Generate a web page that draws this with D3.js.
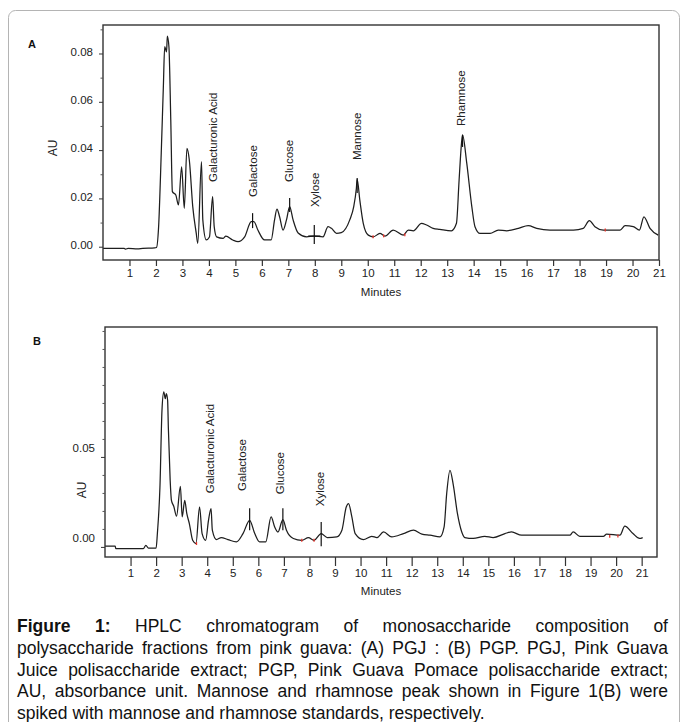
<!DOCTYPE html>
<html>
<head>
<meta charset="utf-8">
<script src="https://cdn.jsdelivr.net/npm/d3@7"></script>
<style>
body{margin:0;background:#fff;}
svg{display:block;font-family:"Liberation Sans",Arial,sans-serif;}
</style>
</head>
<body>
<svg id="chart" width="683" height="722"></svg>
<script>
// panel A : PGJ
var minutesA = [0,0.8,0.85,0.95,1.3,1.5,1.95,2.02,2.1,2.2,2.28,2.33,2.4,2.43,2.49,2.56,2.62,2.75,2.85,2.97,3.07,3.17,3.26,3.39,3.52,3.58,3.72,3.77,3.9,4.02,4.14,4.2,4.29,4.54,4.64,4.9,5.1,5.35,5.6,5.7,5.85,6.1,6.35,6.48,6.57,6.67,6.8,6.93,7.05,7.18,7.37,7.69,7.96,8.31,8.5,8.63,8.82,9.0,9.32,9.47,9.57,9.6,9.7,9.83,10.02,10.21,10.46,10.65,10.96,11.34,11.53,11.72,12.03,12.22,12.47,12.72,13.16,13.35,13.45,13.54,13.58,13.74,13.93,14.05,14.24,14.62,14.93,15.25,15.69,16.06,16.38,16.88,17.77,18.14,18.37,18.58,18.9,19.53,19.72,20.03,20.26,20.43,20.66,20.97];
var auA = [-0.0007,-0.0007,-0.0010,-0.0007,-0.0009,-0.0007,-0.0005,-0.0003,0.0082,0.0388,0.0663,0.0828,0.0807,0.0872,0.0828,0.0525,0.0228,0.0214,0.0173,0.0331,0.0159,0.0407,0.0359,0.0166,0.0057,0.0014,0.0352,0.0111,0.0028,0.0040,0.0207,0.0083,0.0041,0.0035,0.0044,0.0028,0.0021,0.0041,0.0104,0.0104,0.0069,0.0028,0.0028,0.0111,0.0156,0.0124,0.0069,0.0111,0.0166,0.0111,0.0057,0.0041,0.0044,0.0041,0.0083,0.0076,0.0055,0.0058,0.0111,0.0166,0.0242,0.0279,0.0193,0.0097,0.0048,0.0041,0.0055,0.0044,0.0069,0.0048,0.0069,0.0066,0.0097,0.0090,0.0076,0.0072,0.0066,0.0097,0.0276,0.0428,0.0463,0.0345,0.0166,0.0083,0.0055,0.0055,0.0069,0.0066,0.0076,0.0087,0.0076,0.0069,0.0069,0.0076,0.0108,0.0083,0.0069,0.0069,0.0087,0.0083,0.0069,0.0124,0.0076,0.0048];
var labelNamesA = ["Galacturonic Acid","Galactose","Glucose","Xylose","Mannose","Rhamnose"];
var labelMinA = [4.15,5.66,7.02,8.01,9.59,13.52];
var labelAuA = [0.0268,0.0206,0.0268,0.0164,0.0359,0.0500];
var markMinA = [5.65,7.05,7.98,9.6,13.58];
var markTopA = [0.0139,0.0202,0.0090,0.0284,0.0463];
var markBottomA = [0.0077,0.0144,0.0011,0.0222,0.0413];
var redMinA = [10.2,10.6,11.4,18.97];
var redAuA = [0.0041,0.0045,0.0050,0.0069];

// panel B : PGP
var minutesB = [0,0.4,0.42,1.5,1.6,1.7,2.0,2.05,2.15,2.23,2.3,2.36,2.4,2.45,2.48,2.55,2.6,2.69,2.8,2.95,3.02,3.12,3.2,3.3,3.43,3.56,3.7,3.8,3.94,4.05,4.15,4.2,4.36,4.55,4.81,5.14,5.4,5.66,5.86,6.05,6.29,6.5,6.64,6.77,6.96,7.1,7.37,7.7,7.96,8.18,8.46,8.7,9.07,9.27,9.44,9.53,9.66,9.79,10.11,10.44,10.64,10.9,11.22,11.68,12.07,12.4,12.72,13.11,13.27,13.37,13.5,13.63,13.79,13.96,14.08,14.41,14.86,15.19,15.65,15.91,16.3,18.19,18.32,18.58,19.5,19.63,20.15,20.34,20.66,20.92,21.04];
var auB = [0.0004,0.0004,-0.0009,-0.0009,0.0009,-0.0007,-0.0007,0.0076,0.0333,0.0759,0.0861,0.0824,0.0852,0.0815,0.0658,0.0371,0.0259,0.0226,0.0171,0.0337,0.0167,0.0259,0.0186,0.0130,0.0037,0.0019,0.0222,0.0074,0.0037,0.0148,0.0213,0.0093,0.0041,0.0052,0.0041,0.0028,0.0074,0.0148,0.0074,0.0028,0.0028,0.0167,0.0111,0.0083,0.0152,0.0093,0.0047,0.0037,0.0052,0.0037,0.0074,0.0052,0.0056,0.0093,0.0222,0.0241,0.0167,0.0074,0.0041,0.0059,0.0052,0.0083,0.0056,0.0074,0.0093,0.0071,0.0065,0.0056,0.0111,0.0296,0.0426,0.0343,0.0186,0.0083,0.0052,0.0047,0.0059,0.0052,0.0074,0.0083,0.0065,0.0065,0.0083,0.0059,0.0059,0.0071,0.0065,0.0115,0.0074,0.0047,0.0052];
var labelNamesB = ["Galacturonic Acid","Galactose","Glucose","Xylose"];
var labelMinB = [4.10,5.36,6.83,8.42];
var labelAuB = [0.0298,0.0311,0.0293,0.0226];
var markMinB = [5.66,6.96,8.46];
var markTopB = [0.0215,0.0215,0.0139];
var markBottomB = [0.0093,0.0093,0.0004];
var redMinB = [3.58,7.7,8.18,19.75,20.07];
var redAuB = [0.0019,0.0037,0.0037,0.0059,0.0060];

// axes
var xTickValues = [1,2,3,4,5,6,7,8,9,10,11,12,13,14,15,16,17,18,19,20,21];
var yTicksA = [0,0.02,0.04,0.06,0.08];
var yMinorA = [0.01,0.03,0.05,0.07,0.09];
var yTicksB = [0,0.05];
var yMinorB = [0.01,0.02,0.03,0.04,0.06,0.07,0.08,0.09,0.10,0.11,0.12];

var captionLines = [
	"Figure 1: HPLC chromatogram of monosaccharide composition of",
	"polysaccharide fractions from pink guava: (A) PGJ : (B) PGP. PGJ, Pink Guava",
	"Juice polisaccharide extract; PGP, Pink Guava Pomace polisaccharide extract;",
	"AU, absorbance unit. Mannose and rhamnose peak shown in Figure 1(B) were",
	"spiked with mannose and rhamnose standards, respectively."
];

var svg = d3.select("#chart");

// outer frame of the figure
svg.append("rect")
	.attr("x",8.5)
	.attr("y",10.5)
	.attr("width",671)
	.attr("height",740)
	.attr("rx",7)
	.attr("fill","none")
	.attr("stroke","#b4b4b4")
	.attr("stroke-width",1);

var drawPanel = function(p){
	var x = d3.scaleLinear().domain(p.xDomain).range(p.xRange);
	var y = d3.scaleLinear().domain(p.yDomain).range(p.yRange);
	var g = svg.append("g").attr("class","panel");

	var data = p.minutes.map(function(m,i){ return [m,p.au[i]]; });
	var line = d3.line()
		.curve(d3.curveMonotoneX)
		.x(function(d){ return x(d[0]); })
		.y(function(d){ return y(d[1]); });

	g.append("path")
		.datum(data)
		.attr("fill","none")
		.attr("stroke","#1e1e1e")
		.attr("stroke-width",1.25)
		.attr("stroke-linejoin","round")
		.attr("d",line);

	// integration markers
	p.markMin.forEach(function(m,i){
		g.append("line")
			.attr("x1",x(m)).attr("x2",x(m))
			.attr("y1",y(p.markTop[i])).attr("y2",y(p.markBottom[i]))
			.attr("stroke","#111")
			.attr("stroke-width",1.2);
	});
	if (p.crossMin !== undefined){
		g.append("line")
			.attr("x1",x(p.crossMin - 0.23)).attr("x2",x(p.crossMin + 0.23))
			.attr("y1",y(p.crossAu)).attr("y2",y(p.crossAu))
			.attr("stroke","#111")
			.attr("stroke-width",1.2);
	}
	p.redMin.forEach(function(m,i){
		g.append("line")
			.attr("x1",x(m)).attr("x2",x(m))
			.attr("y1",y(p.redAu[i]) - 1.5).attr("y2",y(p.redAu[i]) + 1.5)
			.attr("stroke","#e8322a")
			.attr("stroke-width",1.3);
	});

	// peak names
	p.labelNames.forEach(function(name,i){
		g.append("text")
			.attr("transform","translate(" + (x(p.labelMin[i]) + 4) + "," + y(p.labelAu[i]) + ") rotate(-90)")
			.attr("font-size","11.5px")
			.attr("fill","#222")
			.text(name);
	});

	// frame
	g.append("rect")
		.attr("x",p.xRange[0])
		.attr("y",p.yRange[1])
		.attr("width",p.xRange[1] - p.xRange[0])
		.attr("height",p.yRange[0] - p.yRange[1])
		.attr("fill","none")
		.attr("stroke","#333")
		.attr("stroke-width",1.4);

	var gx = g.append("g")
		.attr("transform","translate(0," + p.yRange[0] + ")")
		.call(d3.axisBottom(x).tickValues(xTickValues).tickSize(p.xTickSize).tickSizeOuter(0).tickPadding(3).tickFormat(d3.format("d")));
	gx.select(".domain").remove();
	gx.selectAll("line").attr("stroke","#333").attr("stroke-width",1.2);
	gx.selectAll("text").attr("font-size","11.5px").attr("font-family","Liberation Sans, Arial, sans-serif").attr("fill","#222");

	var gy = g.append("g")
		.attr("transform","translate(" + p.xRange[0] + ",0)")
		.call(d3.axisLeft(y).tickValues(p.yTicks).tickSize(4).tickSizeOuter(0).tickPadding(6).tickFormat(d3.format(".2f")));
	gy.select(".domain").remove();
	gy.selectAll("line").attr("stroke","#333");
	gy.selectAll("text").attr("font-size","11.5px").attr("font-family","Liberation Sans, Arial, sans-serif").attr("fill","#222").attr("y",p.yLabelShift);

	var gm = g.append("g")
		.attr("transform","translate(" + p.xRange[0] + ",0)")
		.call(d3.axisLeft(y).tickValues(p.yMinor).tickSize(2.5).tickSizeOuter(0).tickFormat(""));
	gm.select(".domain").remove();
	gm.selectAll("line").attr("stroke","#555");

	g.append("text")
		.attr("x",(p.xRange[0] + p.xRange[1]) / 2)
		.attr("y",p.minutesY)
		.attr("text-anchor","middle")
		.attr("font-size","11.5px")
		.attr("fill","#222")
		.text("Minutes");

	g.append("text")
		.attr("transform","translate(" + p.auX + "," + p.auY + ") rotate(-90)")
		.attr("text-anchor","middle")
		.attr("font-size","12px")
		.attr("fill","#222")
		.text("AU");

	g.append("text")
		.attr("x",p.letterX)
		.attr("y",p.letterY)
		.attr("font-size","11px")
		.attr("font-weight","bold")
		.attr("fill","#111")
		.text(p.letter);
};

drawPanel({
	letter:"A", letterX:28, letterY:48,
	minutes:minutesA, au:auA,
	xDomain:[0,21], xRange:[103,659],
	yDomain:[-0.0055,0.0918], yRange:[260,25],
	yTicks:yTicksA, yMinor:yMinorA, yLabelShift:-2,
	xTickSize:6,
	labelNames:labelNamesA, labelMin:labelMinA, labelAu:labelAuA,
	markMin:markMinA, markTop:markTopA, markBottom:markBottomA,
	crossMin:7.98, crossAu:0.0044,
	redMin:redMinA, redAu:redAuA,
	minutesY:296, auX:57, auY:148
});

drawPanel({
	letter:"B", letterX:33, letterY:345,
	minutes:minutesB, au:auB,
	xDomain:[0,21.6], xRange:[105,657],
	yDomain:[-0.0056,0.1222], yRange:[557,327],
	yTicks:yTicksB, yMinor:yMinorB, yLabelShift:-9,
	xTickSize:9,
	labelNames:labelNamesB, labelMin:labelMinB, labelAu:labelAuB,
	markMin:markMinB, markTop:markTopB, markBottom:markBottomB,
	redMin:redMinB, redAu:redAuB,
	minutesY:595, auX:86, auY:490
});

// caption, justified word by word
var captionLeft = 17, captionRight = 668, captionTop = 632, captionStep = 21.8;
var cap = svg.append("g").attr("fill","#111");
var fontSize = 17.5;
var measure = function(str,bold,size){
	var t = cap.append("text").attr("font-size",size + "px").attr("font-weight",bold ? "bold" : null).text(str);
	var w = t.node().getComputedTextLength();
	t.remove();
	return w;
};
// shrink the font if a line cannot fit with normal spaces
captionLines.forEach(function(l){
	var natural = measure(l,false,fontSize);
	if (natural > captionRight - captionLeft){
		fontSize = fontSize * (captionRight - captionLeft) / natural;
	}
});
var spaceW = measure("a a",false,fontSize) - measure("aa",false,fontSize);
captionLines.forEach(function(l,i){
	var words = l.split(" ");
	var nodes = words.map(function(w,j){
		return cap.append("text")
			.attr("y",captionTop + i * captionStep)
			.attr("font-size",fontSize + "px")
			.attr("font-weight",(i === 0 && j < 2) ? "bold" : null)
			.text(w);
	});
	var widths = nodes.map(function(n){ return n.node().getComputedTextLength(); });
	var gap = spaceW;
	if (i < captionLines.length - 1){
		gap = (captionRight - captionLeft - d3.sum(widths)) / (words.length - 1);
	}
	var cx = captionLeft;
	nodes.forEach(function(n,j){
		n.attr("x",cx);
		cx += widths[j] + gap;
	});
});
</script>
</body>
</html>
